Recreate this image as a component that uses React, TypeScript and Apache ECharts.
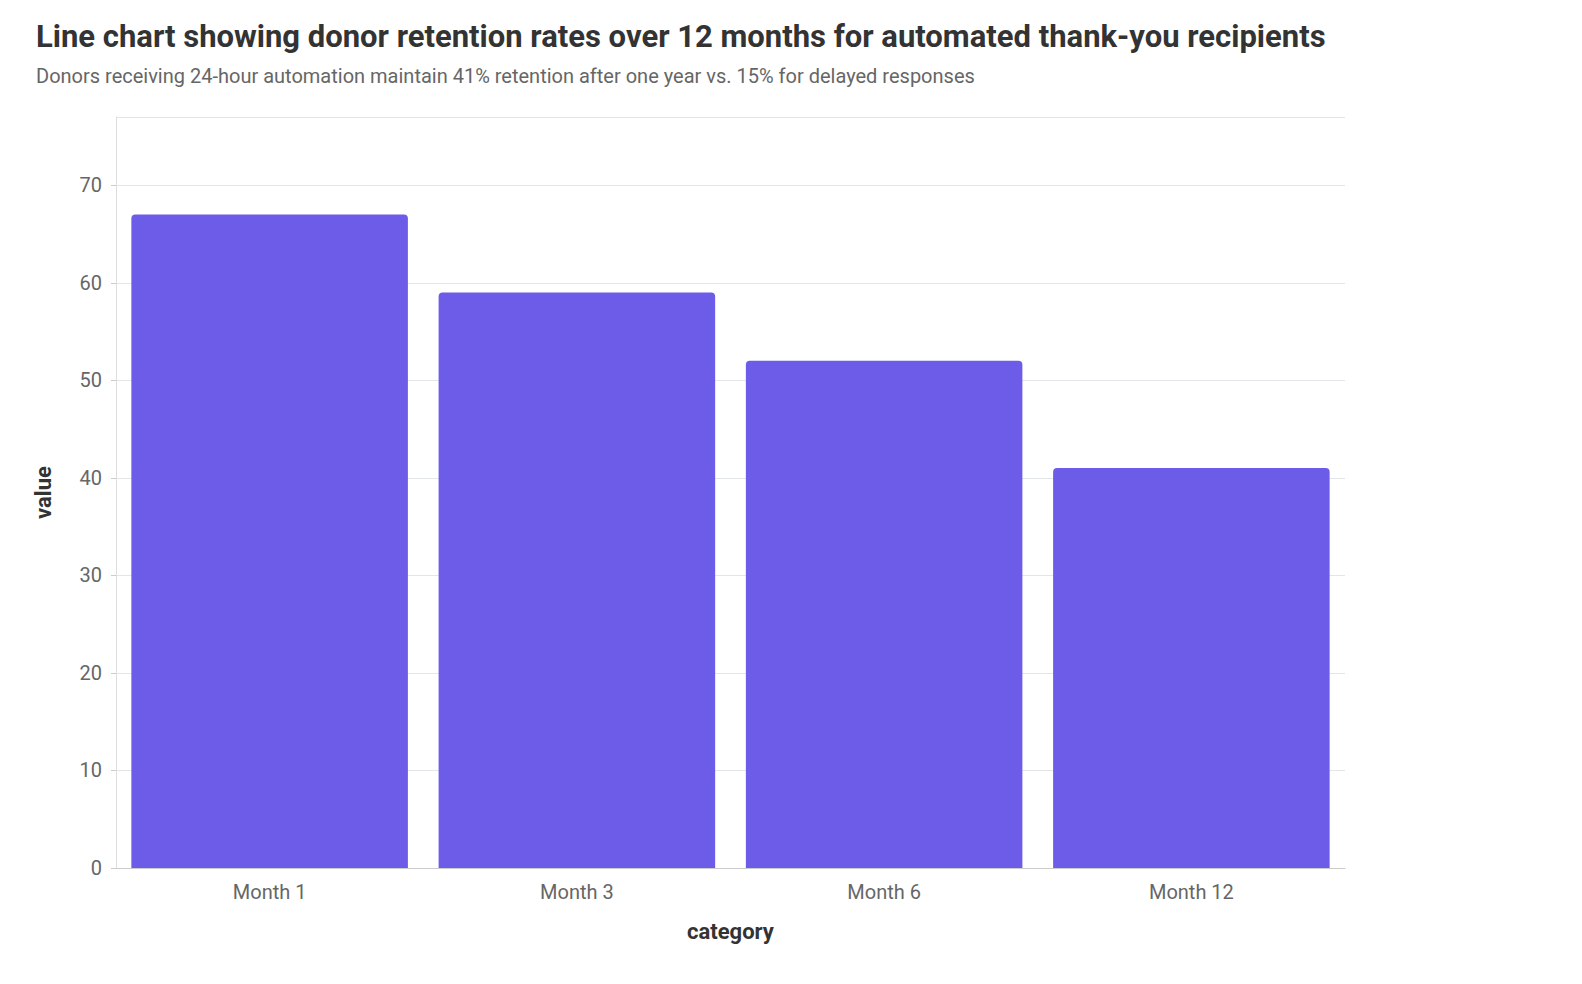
import { useEffect, useRef } from 'react';
import * as echarts from 'echarts';

const categories = ['Month 1', 'Month 3', 'Month 6', 'Month 12'];
const retention = [67, 59, 52, 41];

export default function App() {
  const ref = useRef<HTMLDivElement>(null);

  useEffect(() => {
    document.body.style.margin = '0';
    if (!ref.current) return;
    const chart = echarts.init(ref.current, undefined, { renderer: 'svg' });
    chart.setOption({
      animation: false,
      textStyle: { fontFamily: 'Roboto, "Noto Sans", sans-serif' },
      title: {
        text: 'Line chart showing donor retention rates over 12 months for automated thank-you recipients',
        subtext: 'Donors receiving 24-hour automation maintain 41% retention after one year vs. 15% for delayed responses',
        left: 31,
        top: 16,
        itemGap: 14,
        textStyle: { fontSize: 31, fontWeight: 'bold', color: '#333' },
        subtextStyle: { fontSize: 20, color: '#666' },
      },
      grid: { left: 116, right: 237, top: 117, bottom: 116 },
      xAxis: {
        type: 'category',
        data: categories,
        name: 'category',
        nameLocation: 'middle',
        nameGap: 52,
        nameTextStyle: { fontSize: 22, fontWeight: 'bold', color: '#333' },
        axisLine: { lineStyle: { color: '#ccc' } },
        axisTick: { alignWithLabel: true, lineStyle: { color: '#ccc' } },
        axisLabel: { fontSize: 20, color: '#666', margin: 14 },
      },
      yAxis: {
        type: 'value',
        min: 0,
        max: 77,
        interval: 10,
        name: 'value',
        nameLocation: 'middle',
        nameGap: 62,
        nameTextStyle: { fontSize: 22, fontWeight: 'bold', color: '#333' },
        axisLine: { show: true, lineStyle: { color: '#ddd' } },
        axisTick: { show: true, lineStyle: { color: '#ccc' } },
        axisLabel: { fontSize: 20, color: '#666', showMaxLabel: false, margin: 14 },
        splitLine: { lineStyle: { color: '#e3e6e8' } },
      },
      series: [
        {
          type: 'bar',
          data: retention,
          barCategoryGap: '10%',
          itemStyle: { color: '#6c5ce7', borderRadius: [4, 4, 0, 0] },
        },
      ],
    });
    return () => chart.dispose();
  }, []);

  return <div ref={ref} style={{ width: '100vw', height: 984 }} />;
}
